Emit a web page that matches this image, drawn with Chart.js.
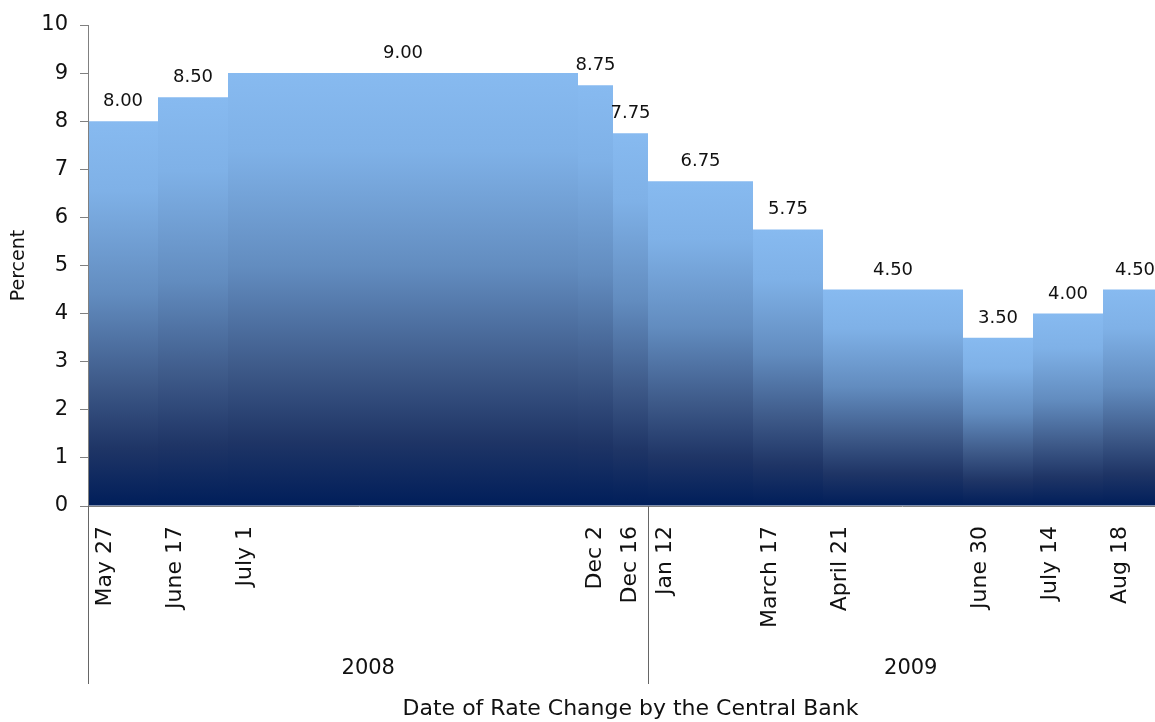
<!DOCTYPE html>
<html>
<head>
<meta charset="utf-8">
<script src="https://cdn.jsdelivr.net/npm/chart.js@4"></script>
<style>
  html, body { margin: 0; padding: 0; background: #fff; overflow: hidden; }
  #chart { display: block; }
</style>
</head>
<body>
<canvas id="chart" width="1175" height="722"></canvas>
<script>
const dates = ['May 27', 'June 17', 'July 1', 'Dec 2', 'Dec 16', 'Jan 12', 'March 17', 'April 21', 'June 30', 'July 14', 'Aug 18'];
const rates = [8.00, 8.50, 9.00, 8.75, 7.75, 6.75, 5.75, 4.50, 3.50, 4.00, 4.50];
// how many category slots each rate occupies on the axis
const periods = [2, 2, 10, 1, 1, 3, 2, 4, 2, 2, 2];
const years = ['2008', '2009'];
const yearFirstDate = [0, 5];

const FONT = 'Verdana, "DejaVu Sans", sans-serif';

// expand to one slot per category
const slotLabels = [];
const slotValues = [];
const runs = [];
dates.forEach((d, i) => {
    runs.push({ start: slotLabels.length, end: slotLabels.length + periods[i] - 1, value: rates[i] });
    for (let k = 0; k < periods[i]; k++) {
        slotLabels.push(k === 0 ? d : '');
        slotValues.push(rates[i]);
    }
});

function barGradient(ctx) {
    const chart = ctx.chart;
    if (!chart.chartArea || ctx.raw == null) return '#86b9ef';
    const y = chart.scales.y;
    const top = y.getPixelForValue(ctx.raw);
    const base = y.getPixelForValue(0);
    const g = chart.ctx.createLinearGradient(0, top, 0, base);
    g.addColorStop(0, '#87baf0');
    g.addColorStop(0.18, '#7fb1e7');
    g.addColorStop(0.45, '#628cbf');
    g.addColorStop(0.68, '#3e5a89');
    g.addColorStop(0.85, '#1f3566');
    g.addColorStop(1, '#001e5a');
    return g;
}

const extras = {
    id: 'extras',
    afterDraw(chart) {
        const c = chart.ctx;
        const xs = chart.scales.x;
        const ys = chart.scales.y;
        const area = chart.chartArea;
        const slotW = xs.getPixelForValue(1) - xs.getPixelForValue(0);

        // y axis line on top of the first bar
        c.save();
        c.strokeStyle = '#808080';
        c.lineWidth = 1;
        c.beginPath();
        c.moveTo(Math.round(area.left) + 0.5, area.top);
        c.lineTo(Math.round(area.left) + 0.5, area.bottom);
        c.stroke();
        c.restore();

        // value labels above each step
        c.save();
        c.font = '18px ' + FONT;
        c.fillStyle = '#111';
        c.textAlign = 'center';
        c.textBaseline = 'alphabetic';
        runs.forEach(r => {
            let x = (xs.getPixelForValue(r.start) + xs.getPixelForValue(r.end)) / 2;
            x = Math.min(x, 1135);
            const y = ys.getPixelForValue(r.value) - 15;
            c.fillText(r.value.toFixed(2), x, y);
        });
        c.restore();

        // year groups under the date labels
        c.save();
        c.strokeStyle = '#666';
        c.lineWidth = 1;
        c.font = '21px ' + FONT;
        c.fillStyle = '#111';
        c.textAlign = 'center';
        c.textBaseline = 'middle';
        years.forEach((yr, i) => {
            const first = runs[yearFirstDate[i]].start;
            const lastDate = i + 1 < years.length ? yearFirstDate[i + 1] - 1 : dates.length - 1;
            const last = runs[lastDate].end;
            const x0 = Math.round(xs.getPixelForValue(first) - slotW / 2) + 0.5;
            const x1 = xs.getPixelForValue(last) + slotW / 2;
            c.beginPath();
            c.moveTo(x0, area.bottom);
            c.lineTo(x0, 684);
            c.stroke();
            c.fillText(yr, (x0 + x1) / 2, 669);
        });
        c.restore();
    }
};

new Chart(document.getElementById('chart'), {
    type: 'bar',
    data: {
        labels: slotLabels,
        datasets: [{
            data: slotValues,
            backgroundColor: barGradient,
            borderWidth: 0,
            inflateAmount: 0,
            barPercentage: 1,
            categoryPercentage: 1
        }]
    },
    options: {
        responsive: false,
        animation: false,
        layout: { padding: { top: 25, right: 2, left: 0, bottom: 0 } },
        plugins: {
            legend: { display: false },
            tooltip: { enabled: false }
        },
        scales: {
            x: {
                grid: { display: false, drawTicks: false },
                border: { display: true, color: '#808080' },
                ticks: {
                    autoSkip: false,
                    minRotation: 90,
                    maxRotation: 90,
                    padding: 20,
                    color: '#111',
                    font: { family: FONT, size: 22 }
                },
                title: {
                    display: true,
                    text: 'Date of Rate Change by the Central Bank',
                    color: '#111',
                    font: { family: FONT, size: 22 },
                    padding: { top: 0, bottom: 0 }
                },
                afterFit(scale) {
                    scale.height = 216;
                    scale.paddingLeft = 0;
                    scale.paddingRight = 0;
                }
            },
            y: {
                min: 0,
                max: 10,
                grid: { drawOnChartArea: false, tickLength: 8, color: '#808080' },
                border: { display: true, color: '#808080' },
                ticks: {
                    stepSize: 1,
                    padding: 12,
                    color: '#111',
                    font: { family: FONT, size: 21 }
                },
                title: {
                    display: true,
                    text: 'Percent',
                    color: '#111',
                    font: { family: FONT, size: 19 },
                    padding: { top: 8, bottom: 0 }
                },
                afterFit(scale) { scale.width = 88; }
            }
        }
    },
    plugins: [extras]
});
</script>
</body>
</html>
